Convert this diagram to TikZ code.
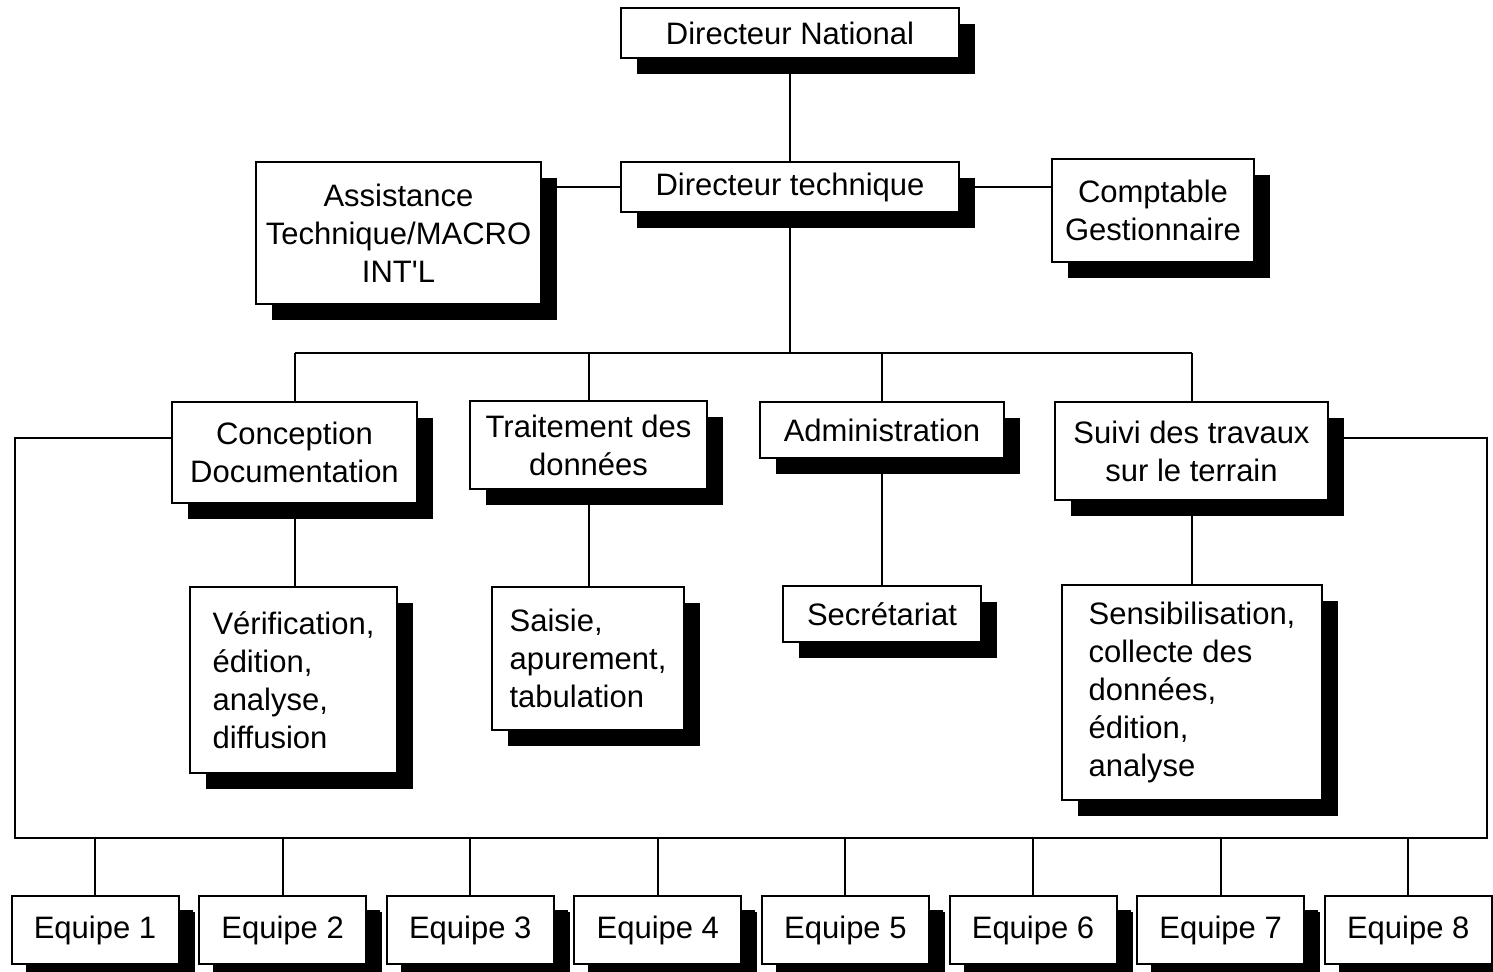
\documentclass[tikz,border=0pt]{standalone}
\usepackage{fontspec}
\setmainfont{Liberation Sans}
\usetikzlibrary{shadows}

\tikzset{
  box/.style={draw, fill=white, line width=1pt, inner sep=2pt,
    font=\fontsize{15.5}{19}\selectfont, align=center,
    drop shadow={shadow xshift=8pt, shadow yshift=-8pt, fill=black, opacity=1}},
  teambox/.style={box, minimum width=83.5pt, minimum height=34pt,
    drop shadow={shadow xshift=7pt, shadow yshift=-7pt, fill=black, opacity=1}},
  link/.style={line width=1pt}
}

\begin{document}
\begin{tikzpicture}[x=0.5pt, y=-0.5pt]
    \useasboundingbox (0,0) rectangle (1493,971);
    % direction
    \node[box, minimum width=169pt, minimum height=25pt] (DN) at (790,33) {Directeur National};
    \node[box, minimum width=169pt, minimum height=25pt] (DT) at (790,187) {Directeur technique};
    \node[box, minimum width=142.5pt, minimum height=71pt] (AT) at (398.5,233) {Assistance\\Technique/MACRO\\INT\textquotesingle L};
    \node[box, minimum width=101pt, minimum height=51.5pt] (CG) at (1153,210.5) {Comptable\\Gestionnaire};
    % services
    \node[box, minimum width=122.5pt, minimum height=50.5pt] (CD) at (294.5,452.5) {Conception\\Documentation};
    \node[box, minimum width=118.5pt, minimum height=44pt] (TD) at (588.5,445) {Traitement des\\donn\'ees};
    \node[box, minimum width=122pt, minimum height=28pt] (AD) at (882,430) {Administration};
    \node[box, minimum width=136.5pt, minimum height=49pt] (ST) at (1191.5,451) {Suivi des travaux\\sur le terrain};
    % taches
    \node[box, align=left, minimum width=103.5pt, minimum height=93pt] (VE) at (293.5,680) {V\'erification,\\\'edition,\\analyse,\\diffusion};
    \node[box, align=left, minimum width=96pt, minimum height=71.5pt] (SA) at (588,658.5) {Saisie,\\apurement,\\tabulation};
    \node[box, minimum width=99pt, minimum height=28pt] (SE) at (882,614) {Secr\'etariat};
    \node[box, align=left, minimum width=130pt, minimum height=107.5pt] (SB) at (1192,692.5) {Sensibilisation,\\collecte des\\donn\'ees,\\\'edition,\\analyse};
    % equipes
    \foreach \i in {1,...,8}
        \node[teambox] (E\i) at ({95+187.6*(\i-1)},930) {Equipe \i};

    \coordinate (bus) at (790,353);
    \coordinate (ftl) at (15,438);
    \coordinate (fbr) at (1487,838);

    \draw[link] (DN) -- (DT);
    \draw[link] (DT.west) -- (DT.west -| AT.east);
    \draw[link] (DT.east) -- (DT.east -| CG.west);
    \draw[link] (DT.south) -- (bus);
    \draw[link] (bus -| CD) -- (bus -| ST);
    \foreach \s in {CD,TD,AD,ST}
        \draw[link] (bus -| \s) -- (\s.north);
    \draw[link] (CD.south) -- (CD.south |- VE.north);
    \draw[link] (TD.south) -- (TD.south |- SA.north);
    \draw[link] (AD.south) -- (AD.south |- SE.north);
    \draw[link] (ST.south) -- (ST.south |- SB.north);
    % cadre
    \draw[link] (ftl -| CD.west) -- (ftl) -- (ftl |- fbr) -- (fbr) -- (fbr |- ftl) -- (ftl -| ST.east);
    \foreach \i in {1,...,8}
        \draw[link] (E\i.north) -- (E\i.north |- fbr);
\end{tikzpicture}
\end{document}
